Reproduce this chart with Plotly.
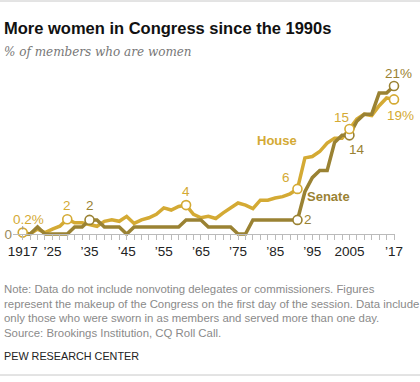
import plotly.graph_objects as go

# ---------------- data ----------------
years = list(range(1917, 2019, 2))
house = [0.2, 0.0, 0.7, 0.2, 0.7, 1.1, 2.1, 1.6, 1.6, 1.4,
         1.1, 1.8, 2.0, 1.8, 2.5, 1.5, 2.0, 2.3, 2.8, 3.7,
         3.4, 3.9, 4.1, 2.8, 2.3, 2.5, 2.2, 3.0, 3.7, 4.4,
         4.1, 3.6, 4.8, 4.8, 5.1, 5.3, 5.7, 6.4, 10.8, 11.0,
         11.7, 12.9, 13.6, 13.6, 14.9, 16.3, 17.0, 16.8, 18.2, 19.3,
         19.1]
senate = [0, 0, 1, 0, 0, 0, 0, 1, 1, 2,
          2, 1, 1, 1, 0, 1, 1, 1, 1, 1,
          1, 1, 2, 2, 2, 1, 1, 1, 1, 0,
          0, 2, 2, 2, 2, 2, 2, 2, 6, 8,
          9, 9, 13, 14, 14, 16, 17, 17, 20, 20,
          21]
house_marked = [1917, 1929, 1961, 1991, 2005, 2017]
senate_marked = [1935, 1991, 2005, 2017]
tick_labels = {1917: "1917", 1925: "’25", 1935: "’35", 1945: "’45", 1955: "’55",
               1965: "’65", 1975: "’75", 1985: "’85", 1995: "’95", 2005: "2005",
               2017: "’17"}

# ---------------- style ----------------
W, H = 420, 382
HOUSE_C = "#d4aa34"
SENATE_C = "#9a8233"
SANS = "Liberation Sans Narrow, Arial Narrow, sans-serif"

def py(px):
    return 1 - px / H

def pxx(px):
    return px / W

hv = dict(zip(years, house))
sv = dict(zip(years, senate))

fig = go.Figure()
fig.add_trace(go.Scatter(x=years, y=house, mode="lines",
                         line=dict(color=HOUSE_C, width=3.5), hoverinfo="skip"))
fig.add_trace(go.Scatter(x=years, y=senate, mode="lines",
                         line=dict(color=SENATE_C, width=3.5), hoverinfo="skip"))
fig.add_trace(go.Scatter(x=senate_marked, y=[sv[y] for y in senate_marked], mode="markers",
                         marker=dict(size=9, color="white", line=dict(color=SENATE_C, width=1.6)),
                         cliponaxis=False, hoverinfo="skip"))
fig.add_trace(go.Scatter(x=house_marked, y=[hv[y] for y in house_marked], mode="markers",
                         marker=dict(size=9, color="white", line=dict(color=HOUSE_C, width=1.6)),
                         cliponaxis=False, hoverinfo="skip"))

ann = []
def lab(x, y, text, color, dx, dy, size=13.5):
    ann.append(dict(x=x, y=y, xref="x", yref="y", text=text, showarrow=False,
                    xshift=dx, yshift=dy, font=dict(family=SANS, size=size, color=color)))

lab(1917, hv[1917], "0.2%", HOUSE_C, 6, 13)
ann.append(dict(x=1917, y=hv[1917], xref="x", yref="y", text="", showarrow=True,
                arrowhead=0, arrowwidth=1, arrowcolor="#999999", ax=0, ay=-8, standoff=3))
lab(1929, hv[1929], "2", HOUSE_C, 0, 14)
lab(1935, sv[1935], "2", SENATE_C, 0, 14)
lab(1961, hv[1961], "4", HOUSE_C, 0, 14)
lab(1991, hv[1991], "6", HOUSE_C, -11, 11)
lab(1991, sv[1991], "2", SENATE_C, 11, 0)
lab(2005, hv[2005], "15", HOUSE_C, -8, 11)
lab(2005, sv[2005], "14", SENATE_C, 8, -14)
lab(2017, sv[2017], "21%", SENATE_C, 4, 13)
lab(2017, hv[2017], "19%", HOUSE_C, 6, -16)

ann.append(dict(x=pxx(277), y=py(141), xref="paper", yref="paper", text="<b>House</b>",
                showarrow=False, font=dict(family="Liberation Sans", size=13, color=HOUSE_C)))
ann.append(dict(x=pxx(352), y=py(196), xref="paper", yref="paper", text="<b>Senate</b>",
                showarrow=False, font=dict(family="Liberation Sans", size=13, color=SENATE_C)))

# titles
ann.append(dict(x=pxx(2), y=py(28), xref="paper", yref="paper", xanchor="left", yanchor="middle",
                text="<b>More women in Congress since the 1990s</b>", showarrow=False,
                font=dict(family="Liberation Sans", size=16.5, color="#111111")))
ann.append(dict(x=pxx(2), y=py(52), xref="paper", yref="paper", xanchor="left", yanchor="middle",
                text="<i>% of members who are women</i>", showarrow=False,
                font=dict(family="DejaVu Serif", size=12, color="#777777")))

notes = ["Note: Data do not include nonvoting delegates or commissioners. Figures",
         "represent the makeup of the Congress on the first day of the session. Data include",
         "only those who were sworn in as members and served more than one day.",
         "Source: Brookings Institution, CQ Roll Call."]
for i, t in enumerate(notes):
    ann.append(dict(x=pxx(2), y=py(289 + i * 14.7), xref="paper", yref="paper",
                    xanchor="left", yanchor="middle", text=t, showarrow=False,
                    font=dict(family=SANS, size=11.4, color="#8a8a8a")))
ann.append(dict(x=pxx(2), y=py(356), xref="paper", yref="paper", xanchor="left", yanchor="middle",
                text="PEW RESEARCH CENTER", showarrow=False,
                font=dict(family=SANS, size=10.8, color="#222222")))

shapes = [
    dict(type="line", xref="paper", yref="paper", x0=0, x1=1, y0=py(1), y1=py(1),
         line=dict(color="#c8c8c8", width=1)),
    dict(type="line", xref="paper", yref="paper", x0=0, x1=1, y0=py(375), y1=py(375),
         line=dict(color="#c8c8c8", width=1)),
]

px_per = (234 - 86) / 21.0
x_px_per = (394 - 22.7) / 100.0
x0 = 1917 - (22.7 - 13) / x_px_per
x1 = 1917 + (395 - 22.7) / x_px_per
ydom0 = 0.3
ybot_px = H * (1 - ydom0)
y0 = -(ybot_px - 234) / px_per
y1 = 234 / px_per

fig.update_layout(
    width=W, height=H, margin=dict(l=0, r=0, t=0, b=0, autoexpand=False),
    paper_bgcolor="white", plot_bgcolor="white", showlegend=False,
    annotations=ann, shapes=shapes,
    xaxis=dict(domain=[13 / W, 395 / W], range=[x0, x1], anchor="free", position=py(234),
               automargin=False,
               showgrid=False, zeroline=False, showline=True, linecolor="#bbbbbb", linewidth=1,
               ticks="outside", ticklen=5, tickwidth=1, tickcolor="#bbbbbb",
               tickvals=years, ticktext=[tick_labels.get(y, "") for y in years],
               tickfont=dict(family=SANS, size=13.5, color="#222222")),
    yaxis=dict(domain=[ydom0, 1.0], range=[y0, y1], showgrid=False, zeroline=False,
               automargin=False,
               showline=False, ticks="", tickvals=[0], ticktext=["0"],
               tickfont=dict(family=SANS, size=13.5, color="#9a8a5a")),
)

fig.write_html("out.html", config={"displayModeBar": False},
               post_script="document.body.style.margin='0';document.body.style.overflow='hidden';")
